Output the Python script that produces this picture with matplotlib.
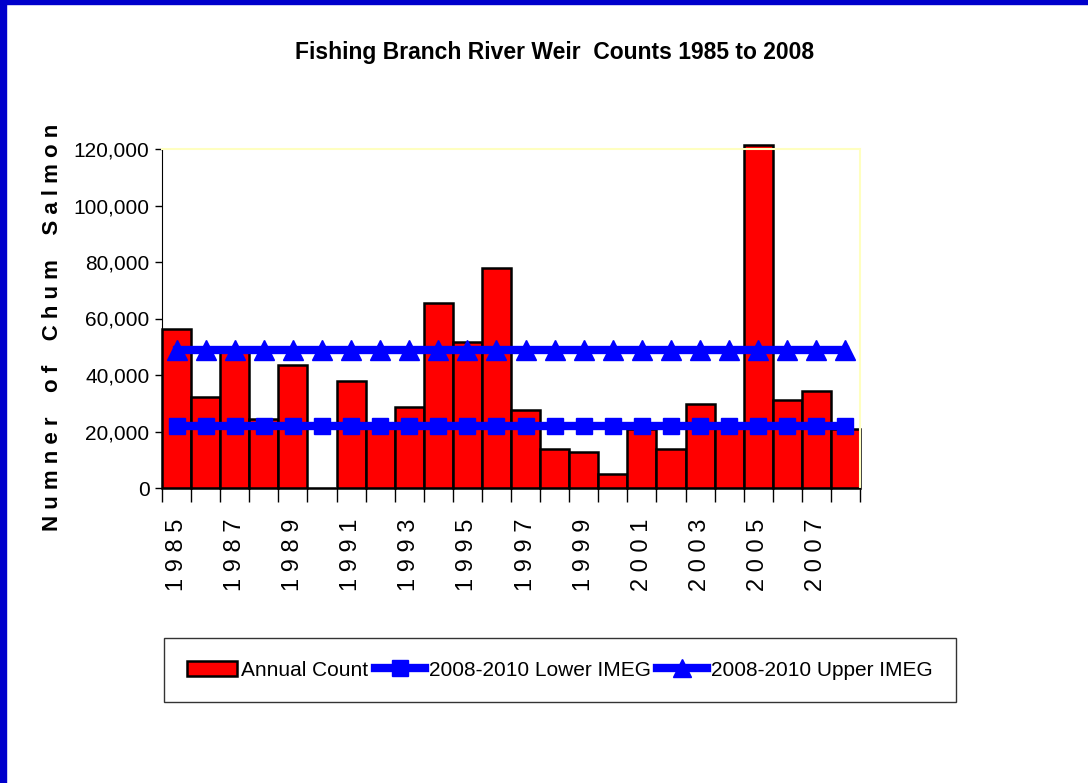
"""
Fishing Branch River weir counts of chum salmon, 1985 to 2008,
with the 2008-2010 lower and upper IMEG levels.
"""
import matplotlib
matplotlib.use("Agg")
import matplotlib.pyplot as plt
from matplotlib.lines import Line2D
from matplotlib.patches import Patch, Rectangle
from matplotlib.ticker import FuncFormatter

# Data
years = list(range(1985, 2009))
annual_count = [56200, 32300, 48500, 24300, 43500, 0, 37900, 21500,
                28800, 65400, 51700, 78000, 27600, 13800, 12600, 4800,
                21000, 13800, 29700, 22000, 121300, 31000, 34300, 20800]
lower_imeg = [22000] * len(years)
upper_imeg = [49000] * len(years)
y_ticks = [0, 20000, 40000, 60000, 80000, 100000, 120000]

NARROW = ["Liberation Sans Narrow", "Liberation Sans", "DejaVu Sans"]
ARIAL = ["Liberation Sans", "DejaVu Sans"]
BLUE = "#0000FF"


def spaced(text, gap=" "):
    return gap.join(text)


fig = plt.figure(figsize=(10.88, 7.83), dpi=100)

# blue frame along the top and left edges
fig.patches.append(Rectangle((0, 1 - 4 / 783), 1, 4 / 783, transform=fig.transFigure,
                             color="#0000CC", zorder=0))
fig.patches.append(Rectangle((0, 0), 6 / 1088, 1, transform=fig.transFigure,
                             color="#0000CC", zorder=0))

ax = fig.add_axes([162 / 1088, 295 / 783, 698 / 1088, 339 / 783])

x = list(range(len(years)))
bars = ax.bar(x, annual_count, width=1.0, color="#FF0000", edgecolor="black",
              linewidth=1.8, zorder=2)
for b in bars:
    b.set_clip_on(False)
ax.plot(x, lower_imeg, color=BLUE, linewidth=6, marker="s", markersize=12,
        zorder=3)
ax.plot(x, upper_imeg, color=BLUE, linewidth=6, marker="^", markersize=14,
        zorder=3)

ax.set_xlim(-0.5, len(years) - 0.5)
ax.set_ylim(0, 120000)

for side in ("top", "right"):
    ax.spines[side].set_color("#FFFFC0")
    ax.spines[side].set_linewidth(1.5)
ax.spines["left"].set_color("black")
ax.spines["bottom"].set_color("black")

ax.set_yticks(y_ticks)
ax.yaxis.set_major_formatter(FuncFormatter(lambda v, p: f"{int(v):,}"))
ax.tick_params(axis="y", direction="out", length=5, width=1, pad=4)
for lab in ax.get_yticklabels():
    lab.set_family(NARROW)
    lab.set_fontsize(15)

# tick marks between categories, labels on every other year
ax.set_xticks([i - 0.5 for i in range(len(years) + 1)])
ax.set_xticklabels([])
ax.tick_params(axis="x", which="major", direction="out", length=10, width=1)
ax.set_xticks(x[::2], minor=True)
ax.set_xticklabels([spaced(str(y)) for y in years[::2]], minor=True,
                   rotation=90, family=ARIAL, fontsize=17)
ax.tick_params(axis="x", which="minor", length=0, pad=22)

ylab = "    ".join(spaced(w) for w in ["Numner", "of", "Chum", "Salmon"])
ax.set_ylabel(ylab, family=ARIAL, fontsize=16, fontweight="bold")
ax.yaxis.set_label_coords(-0.142, 0.475)

fig.text(555 / 1088, 1 - 52 / 783, "Fishing Branch River Weir  Counts 1985 to 2008",
         ha="center", va="center", family=NARROW, fontsize=16.5, fontweight="bold")

handles = [
    Patch(facecolor="#FF0000", edgecolor="black", linewidth=1.8),
    Line2D([], [], color=BLUE, linewidth=6, marker="s", markersize=11),
    Line2D([], [], color=BLUE, linewidth=6, marker="^", markersize=13),
]
labels = ["Annual Count", "2008-2010 Lower IMEG", "2008-2010 Upper IMEG"]
leg = fig.legend(handles, labels, loc="center", ncol=3, numpoints=1,
                 bbox_to_anchor=(560 / 1088, 1 - 670 / 783),
                 prop={"family": NARROW, "size": 15}, frameon=True,
                 fancybox=False, edgecolor="black", borderpad=1.1,
                 handlelength=2.4, handletextpad=0.2, columnspacing=0.3)
leg.get_frame().set_linewidth(1.0)

fig.savefig("out.png", dpi=100)
